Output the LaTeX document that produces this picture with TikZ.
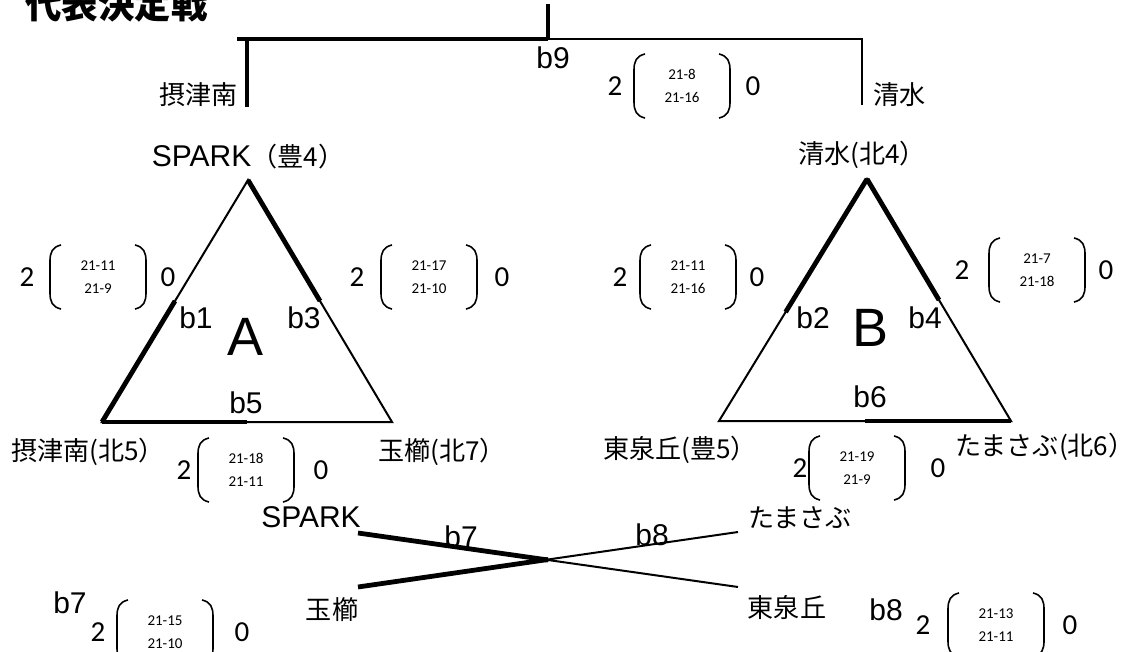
\documentclass[tikz,border=0pt]{standalone}
\usepackage{fontspec}
\setmainfont{Liberation Sans}
\newfontfamily\jp[Scale=0.87]{Noto Sans CJK JP}
\newfontfamily\num{Carlito}
\usetikzlibrary{calc}

\tikzset{
    lose/.style={line width=1pt},
    win/.style={line width=2.4pt},
    paren/.style={line width=0.8pt},
    team/.style={font=\jp\fontsize{15}{18}\selectfont},
    game/.style={font=\fontsize{15}{18}\selectfont},
    pool/.style={font=\fontsize{27}{30}\selectfont},
    sets/.style={font=\num\fontsize{14.5}{16}\selectfont},
    points/.style={font=\num\fontsize{7.5}{11.5}\selectfont, align=center}
}

\newcommand{\score}[6]{%
    \node[sets] (#1w) at (#2,#5) {2};
    \node[points] (#1p) at (#3,#5) {#6};
    \node[sets] (#1l) at (#4,#5) {0};
    \draw[paren] ({#3-37},{#5-32}) .. controls ({#3-46},{#5-30}) and ({#3-48},{#5-24}) .. ({#3-48},{#5-16})
        -- ({#3-48},{#5+16}) .. controls ({#3-48},{#5+24}) and ({#3-46},{#5+30}) .. ({#3-37},{#5+32});
    \draw[paren] ({#3+37},{#5-32}) .. controls ({#3+46},{#5-30}) and ({#3+48},{#5-24}) .. ({#3+48},{#5-16})
        -- ({#3+48},{#5+16}) .. controls ({#3+48},{#5+24}) and ({#3+46},{#5+30}) .. ({#3+37},{#5+32});
}

\begin{document}
\begin{tikzpicture}[x=0.5pt,y=-0.5pt]

                \fill[white] (0,0) rectangle (1135,652);
                \useasboundingbox (0,0) rectangle (1135,652);

                \node[font=\jp\bfseries\fontsize{21}{24}\selectfont, anchor=base west] (title) at (18,19) {代表決定戦};

                \coordinate (top) at (548,4);
                \coordinate (mid) at (548,39);
                \coordinate (lend) at (237,39);
                \coordinate (lcorner) at (247,39);
                \coordinate (lbot) at (247,107);
                \coordinate (rcorner) at (862,39);
                \coordinate (rbot) at (862,105);
                \draw[win] (top) -- (mid);
                \draw[win] (lend) -- (mid);
                \draw[win] (lcorner) -- (lbot);
                \draw[lose] (mid) -- (rcorner) -- (rbot);
                \node[team, anchor=east] (fin1) at (245,95) {摂津南};
                \node[team, anchor=west] (fin2) at (866,95) {清水};
                \node[game] (b9) at (553,58) {b9};
                \score{s9}{615}{682}{753}{86}{21-8\\21-16}

                \coordinate (aT) at (248,180);
                \coordinate (aL) at (102,422);
                \coordinate (aR) at (392,422);
                \draw[lose] (aT) -- (aL) -- (aR) -- cycle;
                \draw[win] (aL) -- ($(aL)!.5!(aT)$);
                \draw[win] (aT) -- ($(aT)!.5!(aR)$);
                \draw[win] (aL) -- ($(aL)!.5!(aR)$);
                \node[game] (a1) at (248,157) {SPARK{\jp（豊4）}};
                \node[team] (a2) at (88,452) {摂津南(北5）};
                \node[team] (a3) at (442,452) {玉櫛(北7）};
                \node[pool] (A) at (246,337) {A};
                \node[game] (b1) at (196,318) {b1};
                \node[game] (b3) at (304,318) {b3};
                \node[game] (b5) at (246,403) {b5};
                \score{s1}{27}{98}{168}{277}{21-11\\21-9}
                \score{s3}{357}{429}{502}{277}{21-17\\21-10}
                \score{s5}{184}{246}{321}{470}{21-18\\21-11}

                \coordinate (bT) at (867,179);
                \coordinate (bL) at (719,421);
                \coordinate (bR) at (1011,421);
                \draw[lose] (bT) -- (bL) -- (bR) -- cycle;
                \draw[win] (bT) -- ($(bT)!.55!(bL)$);
                \draw[win] (bT) -- ($(bT)!.5!(bR)$);
                \draw[win] (bR) -- ($(bR)!.5!(bL)$);
                \node[team] (c1) at (862,155) {清水(北4）};
                \node[team] (c2) at (680,450) {東泉丘(豊5）};
                \node[team] (c3) at (1045,447) {たまさぶ(北6）};
                \node[pool] (B) at (870,328) {B};
                \node[game] (b2) at (813,318) {b2};
                \node[game] (b4) at (925,318) {b4};
                \node[game] (b6) at (870,397) {b6};
                \score{s2}{620}{688}{757}{277}{21-11\\21-16}
                \score{s4}{962}{1037}{1106}{270}{21-7\\21-18}
                \score{s6}{800}{857}{938}{468}{21-19\\21-9}

                \node[game] (d1) at (311,517) {SPARK};
                \node[team] (d2) at (332,610) {玉櫛};
                \node[team] (d3) at (800,518) {たまさぶ};
                \node[team] (d4) at (787,608) {東泉丘};
                \coordinate (e1) at (358,533);
                \coordinate (e2) at (358,587);
                \coordinate (e3) at (738,532);
                \coordinate (e4) at (738,587);
                \draw[win] (e1) -- ($(e1)!.5!(e4)$);
                \draw[lose] ($(e1)!.5!(e4)$) -- (e4);
                \draw[win] (e2) -- ($(e2)!.5!(e3)$);
                \draw[lose] ($(e2)!.5!(e3)$) -- (e3);
                \node[game] (b7) at (461,537) {b7};
                \node[game] (b8) at (652,535) {b8};
                \node[game] (b7s) at (70,603) {b7};
                \node[game] (b8s) at (886,610) {b8};
                \score{s7}{98}{165}{242}{632}{21-15\\21-10}
                \score{s8}{923}{996}{1070}{625}{21-13\\21-11}

            \end{tikzpicture}
\end{document}
